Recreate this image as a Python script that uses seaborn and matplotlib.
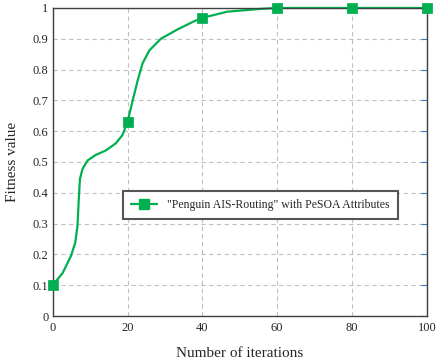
import numpy as np
import pandas as pd
import matplotlib.pyplot as plt
import seaborn as sns
from matplotlib.lines import Line2D

# curve
iters = [0, 2.65, 4.86, 6.0, 6.6, 6.9, 7.25, 7.96, 9.3, 11.5, 14.1, 16.8, 18.6, 20,
         21.3, 22.7, 24.0, 25.8, 28.9, 33.3, 37.8, 40, 46.7, 55.6, 60, 70, 80, 90, 100]
fitness = [0.1, 0.14, 0.195, 0.238, 0.293, 0.369, 0.445, 0.478, 0.505, 0.523, 0.537,
           0.56, 0.587, 0.63, 0.697, 0.765, 0.82, 0.862, 0.9, 0.93, 0.957, 0.968, 0.988,
           0.997, 1.0, 1.0, 1.0, 1.0, 1.0]
marker_iters = [0, 20, 40, 60, 80, 100]
marker_fitness = [0.1, 0.63, 0.968, 1.0, 1.0, 1.0]
label = '"Penguin AIS-Routing" with PeSOA Attributes'

green = "#00b050"
sns.set_style("white")
plt.rcParams['font.family'] = ['Liberation Serif', 'DejaVu Serif']

fig = plt.figure(figsize=(4.4, 3.62), dpi=100)
ax = fig.add_axes([0.12, 0.127, 0.85, 0.851])

df = pd.DataFrame({"it": iters, "fit": fitness})
dm = pd.DataFrame({"it": marker_iters, "fit": marker_fitness})
sns.lineplot(data=df, x="it", y="fit", color=green, lw=1.6, ax=ax, clip_on=False)
sns.scatterplot(data=dm, x="it", y="fit", color=green, marker="s", s=45,
                edgecolor=green, ax=ax, clip_on=False, zorder=5)

ax.set_xlim(0, 100)
ax.set_ylim(0, 1)
ax.set_xticks([0, 20, 40, 60, 80, 100])
ax.set_yticks(np.arange(0, 1.01, 0.1))
ax.set_yticklabels(["0", "0.1", "0.2", "0.3", "0.4", "0.5", "0.6", "0.7", "0.8", "0.9", "1"])
ax.grid(True, ls=(0, (4, 3)), color="#c0c0c0", lw=0.8)
ax.tick_params(axis="y", direction="in", length=4, color="#4472c4", right=True,
               labelsize=9, pad=3)
ax.tick_params(axis="x", length=0, labelsize=9, pad=4)
for s in ax.spines.values():
    s.set_color("#404040")
    s.set_linewidth(1.0)

ax.set_xlabel("Number of iterations", fontsize=11)
ax.set_ylabel("Fitness value", fontsize=11)
ax.xaxis.set_label_coords(0.5, -0.1)
ax.yaxis.set_label_coords(-0.09, 0.5)

h = Line2D([], [], color=green, marker="s", markersize=7, lw=1.6)
leg = ax.legend([h], [label], loc="center", bbox_to_anchor=(0.555, 0.36),
                fontsize=8.5, fancybox=False, framealpha=1, handlelength=2.2,
                borderpad=0.7, edgecolor="#555555")
leg.get_frame().set_linewidth(1.5)

fig.savefig("out.png", dpi=100)
